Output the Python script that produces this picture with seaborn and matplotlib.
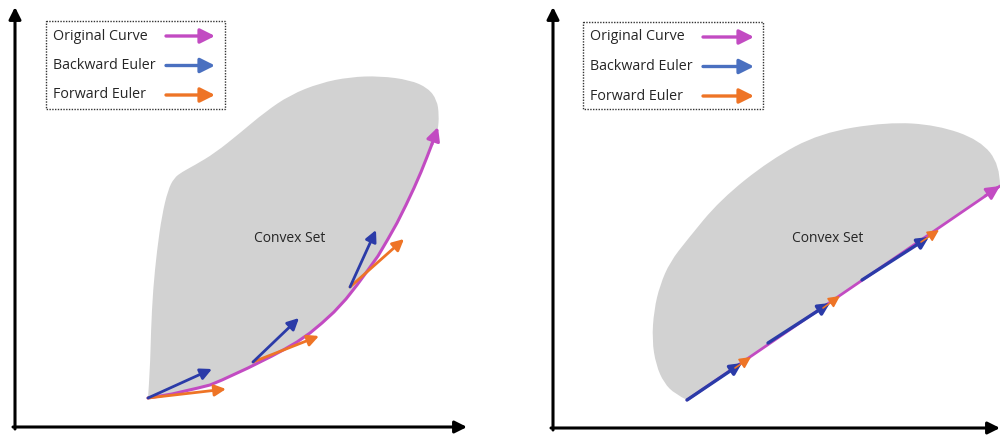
import matplotlib
matplotlib.use("Agg")
import matplotlib.pyplot as plt
from matplotlib.patches import PathPatch, Rectangle
from matplotlib.path import Path
import seaborn as sns
import pandas as pd

sns.set_theme(style="white")
plt.rcParams['font.family'] = ['Open Sans', 'DejaVu Sans']

# ---- data (pixel-space schematic coordinates) ----
legend_labels = ["Original Curve", "Backward Euler", "Forward Euler"]
c_orig = "#C24BC2"
c_back = "#2B3BA8"
c_back_leg = "#4A70C0"
c_fwd = "#EE7426"
gray = "#D2D2D2"
txt = "#262626"

# left panel: original (convex) curve
left_curve_x = [148, 160, 172, 185, 198, 210, 222, 235, 248, 260, 272, 285, 297, 310,
                322, 334, 346, 357, 368, 378, 388, 397, 406, 414, 421, 427, 432]
left_curve_y = [398, 396, 394, 391, 388, 385, 380, 374, 368, 362, 356, 349, 342, 333,
                323, 312, 299, 285, 270, 256, 239, 223, 205, 188, 172, 157, 144]
left_curve_tip = (438, 127)
left_back_start = [(148, 398), (253, 362), (350, 287)]
left_back_end = [(212, 369), (299, 318), (376, 230)]
left_fwd_start = [(148, 398), (253, 362), (350, 287)]
left_fwd_end = [(226, 389), (319, 336), (404, 239)]
# outer boundary of the left convex set (from curve start, round the top, to curve end)
left_set_x = [148, 150, 151, 153, 157, 162, 168, 174, 182, 195, 215, 240, 265, 290, 320,
              350, 380, 410, 428, 437, 439, 438, 436]
left_set_y = [398, 370, 330, 290, 250, 215, 190, 178, 172, 165, 153, 133, 112, 95, 83,
              77, 76, 80, 88, 100, 115, 130, 138]

# right panel: straight original curve
right_line_x = [687, 1000]
right_line_y = [400, 186]
right_back_start = [(687, 400), (768, 343), (862, 280)]
right_back_end = [(742, 363), (830, 303), (929, 237)]
right_fwd_start = [(735, 368), (823, 308), (921, 242)]
right_fwd_end = [(751, 357), (840, 296), (939, 230)]
right_set_x = [687, 675, 664, 656, 652, 654, 660, 670, 687, 720, 770, 820, 887, 937, 980,
               1000, 1000]
right_set_y = [400, 394, 383, 365, 340, 310, 285, 262, 240, 200, 160, 133, 122, 125, 140,
               165, 186]

set_label = "Convex Set"

fig = plt.figure(figsize=(10, 4.38), dpi=100)
ax = fig.add_axes([0, 0, 1, 1])
ax.set_xlim(0, 1000)
ax.set_ylim(438, 0)
ax.axis("off")


def region_patch(arc_x, arc_y, edge_x, edge_y, **kw):
    """Region: smooth (quadratic B-spline) outer arc, closed by a straight-segment edge."""
    pts = list(zip(arc_x, arc_y))
    verts = [pts[0]]
    codes = [Path.MOVETO]
    for i in range(1, len(pts) - 1):
        mid = ((pts[i][0] + pts[i + 1][0]) / 2, (pts[i][1] + pts[i + 1][1]) / 2)
        if i == len(pts) - 2:
            mid = pts[-1]
        verts += [pts[i], mid]
        codes += [Path.CURVE3, Path.CURVE3]
    for x, y in zip(edge_x, edge_y):
        verts.append((x, y))
        codes.append(Path.LINETO)
    verts.append(pts[0])
    codes.append(Path.CLOSEPOLY)
    return PathPatch(Path(verts, codes), **kw)


# gray convex sets
ax.add_patch(region_patch(left_set_x, left_set_y, left_curve_x[::-1], left_curve_y[::-1],
                          facecolor=gray, edgecolor="none", zorder=1))
ax.add_patch(region_patch(right_set_x, right_set_y, right_line_x[::-1], right_line_y[::-1],
                          facecolor=gray, edgecolor="none", zorder=1))


def arrow(p0, p1, color, lw=2.0, ms=16, z=4):
    ax.annotate("", xy=p1, xytext=p0,
                arrowprops=dict(arrowstyle="-|>", color=color, lw=lw,
                                mutation_scale=ms, shrinkA=0, shrinkB=0), zorder=z)


# axes arrows
arrow((15, 429), (15, 7), "black", lw=2.2, ms=18, z=5)
arrow((13, 427), (467, 427), "black", lw=2.2, ms=18, z=5)
arrow((553, 430), (553, 7), "black", lw=2.2, ms=18, z=5)
arrow((551, 428), (1000, 428), "black", lw=2.2, ms=18, z=5)

# left original curve
df_l = pd.DataFrame({"x": left_curve_x, "y": left_curve_y})
sns.lineplot(data=df_l, x="x", y="y", ax=ax, color=c_orig, lw=2.2, sort=False, zorder=3)
arrow((left_curve_x[-1], left_curve_y[-1]), left_curve_tip, c_orig, lw=2.2, ms=20)

for s, e in zip(left_fwd_start, left_fwd_end):
    arrow(s, e, c_fwd, lw=2.0, ms=17)
for s, e in zip(left_back_start, left_back_end):
    arrow(s, e, c_back, lw=2.0, ms=17)

# right original line
df_r = pd.DataFrame({"x": right_line_x, "y": right_line_y})
sns.lineplot(data=df_r, x="x", y="y", ax=ax, color=c_orig, lw=2.0, sort=False, zorder=3)
arrow((985, 196), (1000, 186), c_orig, lw=2.0, ms=20)
for s, e in zip(right_back_start, right_back_end):
    arrow(s, e, c_back, lw=2.4, ms=17, z=4)
for s, e in zip(right_fwd_start, right_fwd_end):
    arrow(s, e, c_fwd, lw=1.2, ms=17, z=5)

# labels
ax.text(290, 238, set_label, ha="center", va="center", fontsize=10, color=txt, zorder=6)
ax.text(828, 238, set_label, ha="center", va="center", fontsize=10, color=txt, zorder=6)

# legends
leg_colors = [c_orig, c_back_leg, c_fwd]
for (bx, by, bw, bh, tx, ax0, ax1) in [(46, 21, 179, 88, 53, 166, 215),
                                       (583, 22, 180, 87, 590, 703, 754)]:
    ax.add_patch(Rectangle((bx, by), bw, bh, fill=False, edgecolor="#333333",
                           linestyle=(0, (1, 1)), lw=1.0, zorder=6))
    for i, (lab, col) in enumerate(zip(legend_labels, leg_colors)):
        yy = by + 15 + i * 29.5
        ax.text(tx, yy, lab, ha="left", va="center", fontsize=10.3, color=txt, zorder=6)
        arrow((ax0, yy), (ax1, yy), col, lw=2.4, ms=22, z=6)

fig.savefig("out.png", dpi=100)
